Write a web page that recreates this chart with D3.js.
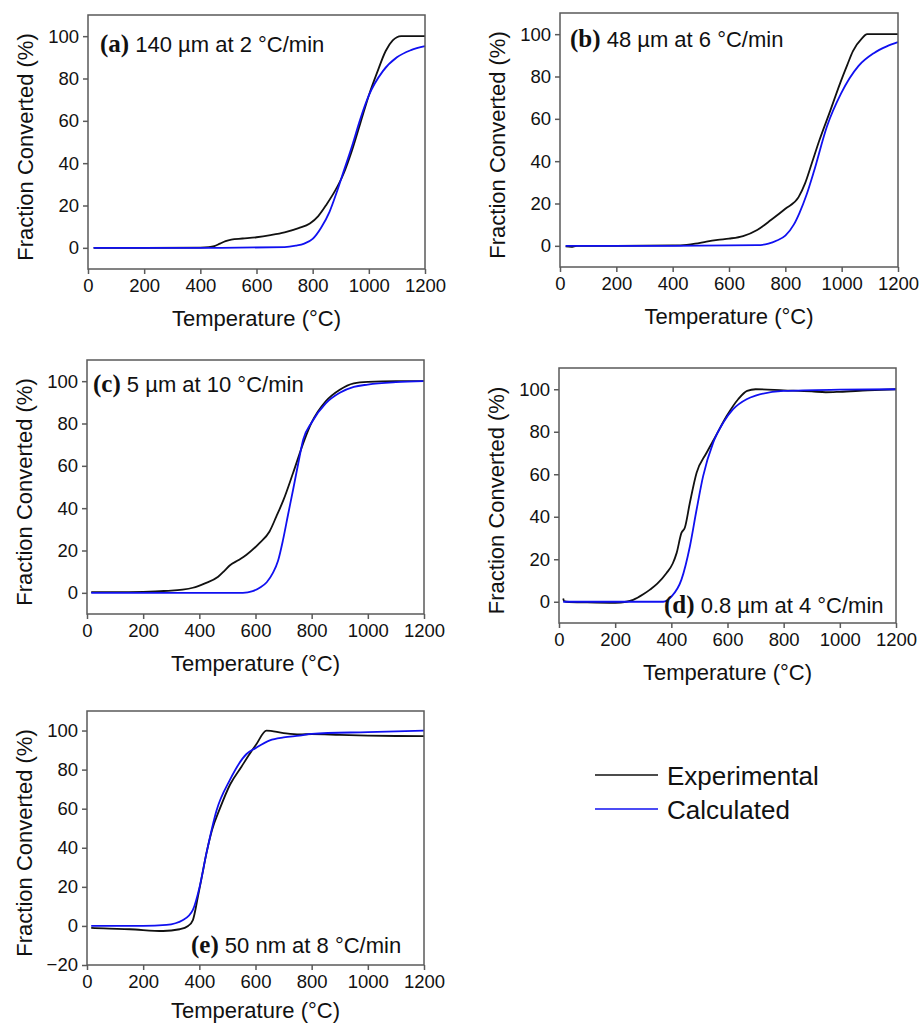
<!DOCTYPE html>
<html><head><meta charset="utf-8">
<script src="https://cdn.jsdelivr.net/npm/d3@7"></script>
<style>body{margin:0;background:#fff}svg{display:block}</style>
</head><body>
<svg id="chart" width="921" height="1025"></svg>
<script>
// ---------- data ----------
const xTicks = [0, 200, 400, 600, 800, 1000, 1200];
const yTicksStd = [0, 20, 40, 60, 80, 100];
const yTicksE = [-20, 0, 20, 40, 60, 80, 100];
const seriesNames = ["Experimental", "Calculated"];
const seriesColors = ["#111111", "#1010f0"];

// (a) 140 µm at 2 °C/min
const tA_exp = [20,200,400,430,450,470,490,510,550,600,650,700,750,790,820,850,880,910,940,970,1000,1030,1060,1085,1100,1115,1200];
const vA_exp = [0,0,0.1,0.3,0.8,2,3.2,3.9,4.4,5.0,6.0,7.3,9.3,11.5,15,20.6,27,35,46,59,72,83,93,98,99.5,100,100];
const tA_calc = [20,400,700,740,770,800,830,860,885,910,940,970,1000,1050,1100,1150,1200];
const vA_calc = [0,0,0.3,1,2,4.2,9.5,17,26,36,48,61,72,83.5,90,93.4,95.3];

// (b) 48 µm at 6 °C/min
const tB_exp = [20,40,60,200,400,450,480,520,560,600,650,700,750,800,847,870,894,920,960,995,1020,1040,1072,1090,1200];
const vB_exp = [-0.3,-0.5,0,0,0.2,0.5,1,2,2.8,3.4,4.6,7.5,12.3,17.5,23,29.5,39,49.5,64,77,85.5,92,98,100,100];
const tB_calc = [20,400,700,740,770,800,830,850,875,900,948,998,1060,1114,1160,1200];
const vB_calc = [0,0,0.3,1,2.5,4.8,10,15.5,24,34.5,56.5,72,85,91,94.2,96.2];

// (c) 5 µm at 10 °C/min
const tC_exp = [15,100,200,260,300,340,377,420,467,490,508,540,568,615,650,674,700,734,775,800,850,900,950,1000,1100,1200];
const vC_exp = [0.3,0.3,0.5,0.8,1.0,1.5,2.4,4.5,7.6,10.5,12.9,15.5,18,23.6,29,36,44,56.7,72.5,80.5,90.5,96,99,99.7,100,100];
const tC_calc = [15,300,555,590,615,640,662,680,698,716,734,752,770,800,850,900,950,1000,1100,1200];
const vC_calc = [0,0,0,0.8,2.4,5,9.4,15,25,37,48.8,61,72.4,80.5,89.5,94.5,97.3,98.4,99.5,100];

// (d) 0.8 µm at 4 °C/min
const tD_exp = [15,18,25,100,200,240,264,300,324,350,383,405,419,436,448,466,490,525,555,597,638,670,700,800,900,950,1000,1100,1200];
const vD_exp = [1.5,0.3,0,-0.3,-0.5,0,0.9,3.5,5.7,8.5,13.5,18,23,32.4,34.8,46.6,60.7,70,77.2,87.4,95.3,99.2,100,99.5,99,98.6,98.8,99.5,100];
const tD_calc = [15,200,371,401,436,466,490,513,549,585,620,668,700,800,1000,1200];
const vD_calc = [0,0,0,2.5,10.4,26,43.4,59,74.9,84.3,90.6,95.3,97,99.2,99.8,100];

// (e) 50 nm at 8 °C/min
const tE_exp = [15,60,152,271,330,360,377,395,410,425,445,473,510,550,579,603,639,700,757,800,900,1000,1100,1200];
const vE_exp = [-1,-1.3,-1.7,-2.6,-1.7,0,3,15,26,37,49,60,72.5,81.5,88,93,100,98.7,98,98.2,97.8,97.4,97.2,97.1];
const tE_calc = [15,200,283,342,377,401,425,461,508,568,600,651,700,757,800,1000,1200];
const vE_calc = [0,0,0.5,3,8.2,20,37,59,74.5,88,91,95,96.5,97.4,98.3,99.2,100];

const panelTags = ["(a)", "(b)", "(c)", "(d)", "(e)"];
const panelTexts = ["140 µm at 2 °C/min", "48 µm at 6 °C/min", "5 µm at 10 °C/min", "0.8 µm at 4 °C/min", "50 nm at 8 °C/min"];
const xTitle = "Temperature (°C)";
const yTitle = "Fraction Converted (%)";

// ---------- layout ----------
const layout = [
  {l:88,  t:15,  r:425, b:269, yd:[-10,110], yt:yTicksStd, lx:12,  ly:37,  xo:57, T:[tA_exp,tA_calc], V:[vA_exp,vA_calc]},
  {l:560, t:13,  r:898, b:267, yd:[-10,110], yt:yTicksStd, lx:10,  ly:34,  xo:57, T:[tB_exp,tB_calc], V:[vB_exp,vB_calc]},
  {l:87,  t:360, r:424, b:614, yd:[-10,110], yt:yTicksStd, lx:6,   ly:32,  xo:57, T:[tC_exp,tC_calc], V:[vC_exp,vC_calc]},
  {l:559, t:368, r:896, b:623, yd:[-10,110], yt:yTicksStd, lx:105, ly:245, xo:57, T:[tD_exp,tD_calc], V:[vD_exp,vD_calc]},
  {l:87,  t:711, r:424, b:965, yd:[-20,110], yt:yTicksE,   lx:104, ly:242, xo:53, T:[tE_exp,tE_calc], V:[vE_exp,vE_calc]}
];

const svg = d3.select("#chart");
svg.append("rect").attr("width",921).attr("height",1025).attr("fill","#fff");
const sans = "'Liberation Sans', Arial, Helvetica, sans-serif";
const serif = "'Liberation Serif', 'Times New Roman', serif";
const frameColor = "#5a5a5a";

layout.forEach((p, i) => {
  const w = p.r - p.l, h = p.b - p.t;
  const g = svg.append("g").attr("transform", `translate(${p.l},${p.t})`);
  const x = d3.scaleLinear().domain([0, 1200]).range([0, w]);
  const y = d3.scaleLinear().domain(p.yd).range([h, 0]);

  const xa = g.append("g").attr("transform", `translate(0,${h})`)
    .call(d3.axisBottom(x).tickValues(xTicks).tickSize(5).tickPadding(5).tickFormat(d3.format("d")));
  const ya = g.append("g")
    .call(d3.axisLeft(y).tickValues(p.yt).tickSize(5).tickPadding(4).tickFormat(d3.format("d")));
  [xa, ya].forEach(a => {
    a.select(".domain").remove();
    a.selectAll(".tick line").attr("stroke", frameColor).attr("stroke-width", 1.5);
    a.selectAll(".tick text").attr("fill", "#111").style("font-family", sans).style("font-size", "18.5px");
  });

  p.T.forEach((ts, s) => {
    const pts = ts.map((t, k) => [t, p.V[s][k]]);
    g.append("path").datum(pts)
      .attr("fill", "none").attr("stroke", seriesColors[s]).attr("stroke-width", 1.8)
      .attr("d", d3.line().x(d => x(d[0])).y(d => y(d[1])).curve(d3.curveMonotoneX));
  });

  g.append("rect").attr("width", w).attr("height", h)
    .attr("fill", "none").attr("stroke", frameColor).attr("stroke-width", 1.5);

  g.append("text").attr("x", w / 2).attr("y", h + p.xo).attr("text-anchor", "middle")
    .style("font-family", sans).style("font-size", "22px").attr("fill", "#111").text(xTitle);
  g.append("text").attr("transform", `translate(${-55},${h / 2 + 5}) rotate(-90)`).attr("text-anchor", "middle")
    .style("font-family", sans).style("font-size", "22px").attr("fill", "#111").text(yTitle);

  const lab = g.append("text").attr("x", p.lx).attr("y", p.ly).attr("fill", "#111");
  lab.append("tspan").style("font-family", serif).style("font-weight", "bold").style("font-size", "25px").text(panelTags[i]);
  lab.append("tspan").style("font-family", sans).style("font-size", "22px").text(" " + panelTexts[i]);
});

// legend
const leg = svg.append("g").attr("transform", "translate(595,775)");
seriesNames.forEach((n, s) => {
  const row = leg.append("g").attr("transform", `translate(0,${s * 34})`);
  row.append("line").attr("x1", 0).attr("x2", 63).attr("y1", 0).attr("y2", 0)
    .attr("stroke", seriesColors[s]).attr("stroke-width", 1.5);
  row.append("text").attr("x", 72).attr("y", 9.5)
    .style("font-family", sans).style("font-size", "26px").attr("fill", "#111").text(n);
});
</script>
</body></html>
